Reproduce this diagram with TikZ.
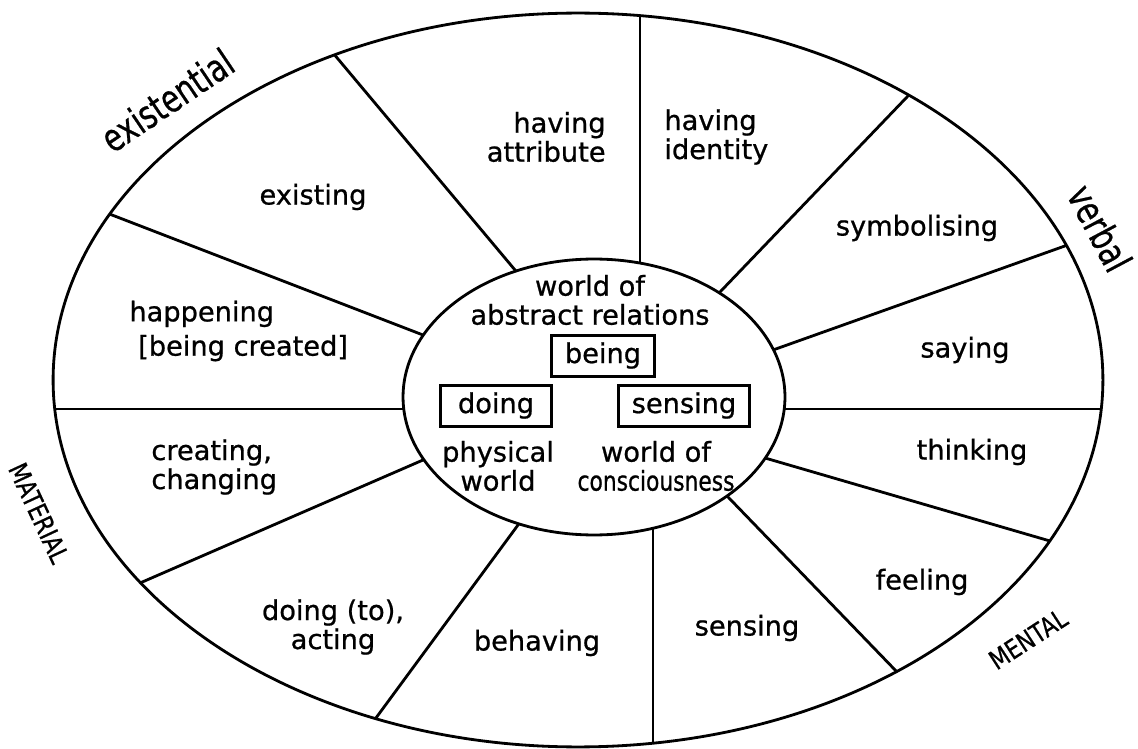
\documentclass[tikz,border=0pt]{standalone}
\usepackage{fontspec}
\setmainfont{DejaVu Sans}[FakeBold=0.8]
\newfontfamily\narrowfont[FakeStretch=0.8, FakeBold=0.8]{DejaVu Sans}
\newfontfamily\headfont[FakeStretch=0.75, FakeBold=0.6]{DejaVu Sans}
\newfontfamily\capsfont[FakeStretch=0.82, FakeBold=0.6]{DejaVu Sans}

\begin{document}
\begin{tikzpicture}[x=0.02cm, y=-0.02cm, line width=1.6pt,
    lbl/.style={font=\fontsize{15.5}{16.5}\selectfont, align=center, inner sep=0pt},
    wbox/.style={draw, line width=1.6pt, font=\fontsize{15.5}{16.5}\selectfont,
      inner sep=0pt, minimum height=23pt, text height=11.5pt, text depth=3.5pt},
    big/.style={font=\headfont\fontsize{22}{22}\selectfont, inner sep=0pt},
    caps/.style={font=\capsfont\fontsize{15}{15}\selectfont, inner sep=0pt}]
    \useasboundingbox (0,0) rectangle (1138,749);

    % spokes: outer rim point (o) and inner disc point (i)
    \coordinate (o1) at (333,53);   \coordinate (i1) at (515,270);
    \coordinate (o2) at (640,15);   \coordinate (i2) at (640,262);
    \coordinate (o3) at (907,97);   \coordinate (i3) at (720,292);
    \coordinate (o4) at (1062,247); \coordinate (i4) at (773,350);
    \coordinate (o5) at (1102,409); \coordinate (i5) at (784,409);
    \coordinate (o6) at (1050,541); \coordinate (i6) at (765,458);
    \coordinate (o7) at (898,673);  \coordinate (i7) at (728,497);
    \coordinate (o8) at (653,747);  \coordinate (i8) at (653,530);
    \coordinate (o9) at (373,722);  \coordinate (i9) at (518,525);
    \coordinate (o10) at (140,583); \coordinate (i10) at (423,460);
    \coordinate (o11) at (53,409);  \coordinate (i11) at (405,409);
    \coordinate (o12) at (112,215); \coordinate (i12) at (423,335);

    \begin{scope}
        \clip (578,380) ellipse [x radius=10.5cm, y radius=7.34cm];
        \draw[shorten <=-12pt, shorten >=-12pt]
            (i1) edge (o1) (i2) edge (o2) (i3) edge (o3) (i4) edge (o4)
            (i5) edge (o5) (i6) edge (o6) (i7) edge (o7) (i8) edge (o8)
            (i9) edge (o9) (i10) edge (o10) (i11) edge (o11) (i12) edge (o12);
    \end{scope}
    \draw[fill=white] (594,397) ellipse [x radius=3.82cm, y radius=2.76cm];
    \draw (578,380) ellipse [x radius=10.5cm, y radius=7.34cm];

    % sectors
    \node[lbl] (n1) at (313,197) {existing};
    \node[lbl, align=right, anchor=east] (n2) at (607,137) {having\\attribute};
    \node[lbl, align=left, anchor=west] (n3) at (663,137) {having\\identity};
    \node[lbl] (n4) at (917,228) {symbolising};
    \node[lbl] (n5) at (965,350) {saying};
    \node[lbl] (n6) at (972,452) {thinking};
    \node[lbl] (n7) at (922,582) {feeling};
    \node[lbl] (n8) at (747,628) {sensing};
    \node[lbl] (n9) at (537,643) {behaving};
    \node[lbl] (n10) at (333,627) {doing (to),\\acting};
    \node[lbl, align=left, anchor=west] (n11) at (150,467) {creating,\\changing};
    \node[lbl, align=left, anchor=west] (n12) at (128,331) {happening\\[3pt]\hspace{5pt}[being created]};

    % centre
    \node[lbl] (c1) at (590,300) {world of\\abstract relations};
    \node[wbox, minimum width=59pt] (c2) at (603,356) {being};
    \node[wbox, minimum width=63pt] (c3) at (496,406) {doing};
    \node[wbox, minimum width=75pt] (c4) at (684,406) {sensing};
    \node[lbl] (c5) at (498,466) {physical\\world};
    \node[lbl] (c6) at (656,466) {world of\\{\narrowfont consciousness}};

    % process types round the rim
    \node[big, rotate=34] (m1) at (167,100) {existential};
    \node[big, rotate=-62] (m2) at (1100,228) {verbal};
    \node[caps, rotate=-65] (m3) at (39,513) {MATERIAL};
    \node[caps, rotate=33] (m4) at (1028,639) {MENTAL};
\end{tikzpicture}
\end{document}
